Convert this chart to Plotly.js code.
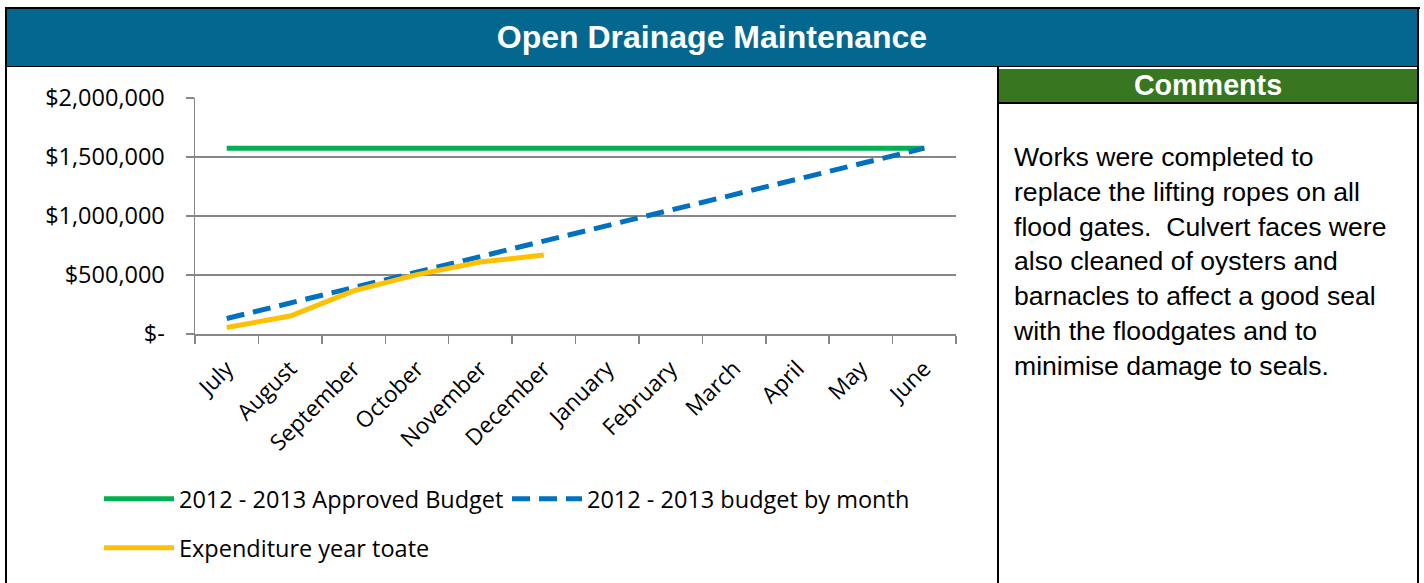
<!DOCTYPE html>
<html>
<head>
<meta charset="utf-8">
<script src="https://cdn.plot.ly/plotly-3.0.1.min.js"></script>
<style>
  html, body { margin:0; padding:0; background:#ffffff; }
  #wrap { position:relative; width:1424px; height:583px; overflow:hidden; background:#fff; }
  #chart { position:absolute; left:0; top:0; width:1424px; height:583px; }
  .blk { position:absolute; background:#000; }
  #header { position:absolute; left:7px; top:9px; width:1410px; height:57px; background:#03678F;
            color:#fff; font-family:"Liberation Sans", Arial, sans-serif; font-weight:bold; font-size:32px;
            display:flex; align-items:center; justify-content:center; }
  #cmthead { position:absolute; left:999px; top:69px; width:418px; height:33px; background:#38761F;
            color:#fff; font-family:"Liberation Sans", Arial, sans-serif; font-weight:bold; font-size:28.7px;
            display:flex; align-items:center; justify-content:center; }
  #cmttext { position:absolute; left:1014px; top:140px; width:400px; color:#000;
            font-family:"Liberation Sans", Arial, sans-serif; font-size:26.6px; line-height:34.8px; white-space:pre; }
</style>
</head>
<body>
<div id="wrap">
  <div id="chart"></div>
  <div class="blk" style="left:5px; top:7px; width:1415px; height:2px;"></div>
  <div class="blk" style="left:5px; top:7px; width:2px; height:576px;"></div>
  <div class="blk" style="left:1417px; top:7px; width:2px; height:576px;"></div>
  <div id="header"></div>
  <div class="blk" style="left:5px; top:66px; width:1414px; height:1px;"></div>
  <div class="blk" style="left:997px; top:67px; width:2px; height:516px;"></div>
  <div id="cmthead"></div>
  <div class="blk" style="left:999px; top:102px; width:418px; height:2px;"></div>
  <div id="cmttext"></div>
</div>
<script>
// ---- data ----
const chartTitle = "Open Drainage Maintenance";
const commentsTitle = "Comments";
const commentLines = [
  "Works were completed to",
  "replace the lifting ropes on all",
  "flood gates.  Culvert faces were",
  "also cleaned of oysters and",
  "barnacles to affect a good seal",
  "with the floodgates and to",
  "minimise damage to seals."
];
const months = ["July","August","September","October","November","December","January","February","March","April","May","June"];
const approvedBudget = [1575000,1575000,1575000,1575000,1575000,1575000,1575000,1575000,1575000,1575000,1575000,1575000];
const budgetByMonth = [131250,262500,393750,525000,656250,787500,918750,1050000,1181250,1312500,1443750,1575000];
const expenditure = [55000,152000,365000,503000,610000,669000];
const expenditureMonths = ["July","August","September","October","November","December"];
const yTickVals = [0,500000,1000000,1500000,2000000];
const yTickText = ["$-","$500,000","$1,000,000","$1,500,000","$2,000,000"];
const seriesNames = ["2012 - 2013 Approved Budget","2012 - 2013 budget by month","Expenditure year toate"];

document.getElementById('header').textContent = chartTitle;
document.getElementById('cmthead').textContent = commentsTitle;
document.getElementById('cmttext').textContent = commentLines.join("\n");

const gray = '#878787';
const legFont = {family:'"Open Sans", sans-serif', size:23.5, color:'#000'};
const traces = [
  {x: months, y: approvedBudget, name: seriesNames[0], type:'scatter', mode:'lines',
   line:{color:'#00B050', width:5}, legend:'legend'},
  {x: months, y: budgetByMonth, name: seriesNames[1], type:'scatter', mode:'lines',
   line:{color:'#0070C0', width:5, dash:'18px,9px'}, legend:'legend3'},
  {x: expenditureMonths, y: expenditure, name: seriesNames[2], type:'scatter', mode:'lines',
   line:{color:'#FFC000', width:5}, legend:'legend2'}
];
const layout = {
  width:1424, height:583,
  margin:{l:195, r:468, t:98, b:249},
  paper_bgcolor:'rgba(0,0,0,0)', plot_bgcolor:'rgba(0,0,0,0)',
  font:{family:'"Open Sans", sans-serif', color:'#000'},
  showlegend:true,
  xaxis:{type:'category', categoryorder:'array', categoryarray:months, range:[-0.5,11.5],
    tickson:'boundaries', ticks:'outside', ticklen:8, tickwidth:1.5, tickcolor:gray,
    showline:true, linecolor:gray, linewidth:1.5, showgrid:false, zeroline:false,
    tickangle:-45, tickfont:{family:'"Open Sans", sans-serif', size:22.5, color:'#000'}, ticklabelstandoff:11},
  yaxis:{range:[0,2000000], tickvals:yTickVals, ticktext:yTickText,
    ticks:'outside', ticklen:8, tickwidth:1.5, tickcolor:gray,
    showline:true, linecolor:gray, linewidth:1.5, showgrid:true, gridcolor:gray, gridwidth:1.5, zeroline:false,
    tickfont:{family:'"Open Sans", sans-serif', size:23.5, color:'#000'}, ticklabelstandoff:16},
  legend:{orientation:'h', xref:'container', yref:'container', x:99/1424, xanchor:'left', itemwidth:70,
    y:(583-499)/583, yanchor:'middle', font:legFont, bgcolor:'rgba(0,0,0,0)'},
  legend3:{orientation:'h', xref:'container', yref:'container', x:507/1424, xanchor:'left', itemwidth:70,
    y:(583-499)/583, yanchor:'middle', font:legFont, bgcolor:'rgba(0,0,0,0)'},
  legend2:{orientation:'h', xref:'container', yref:'container', x:99/1424, xanchor:'left', itemwidth:70,
    y:(583-548)/583, yanchor:'middle', font:legFont, bgcolor:'rgba(0,0,0,0)'}
};
Plotly.newPlot('chart', traces, layout, {staticPlot:true, displayModeBar:false});
</script>
</body>
</html>
